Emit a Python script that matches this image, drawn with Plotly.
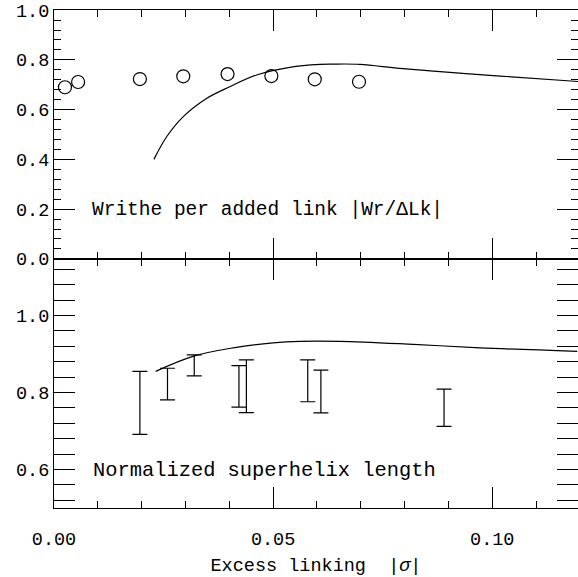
import plotly.graph_objects as go

# Top panel: writhe per added link (circles) and model curve
wr_sigma = [0.0025, 0.0055, 0.0196, 0.0295, 0.0396, 0.0496, 0.0595, 0.0696]
wr_value = [0.690, 0.711, 0.723, 0.734, 0.743, 0.735, 0.722, 0.712]

wr_model_sigma = [0.0228, 0.0257, 0.0295, 0.0348, 0.0401, 0.0462, 0.0538, 0.0607,
                  0.0636, 0.0698, 0.0789, 0.0903, 0.1018, 0.1196]
wr_model_value = [0.400, 0.491, 0.572, 0.645, 0.692, 0.739, 0.770, 0.782,
                  0.783, 0.782, 0.766, 0.750, 0.735, 0.713]

# Bottom panel: normalized superhelix length (ranges) and model curve
len_sigma = [0.0196, 0.0259, 0.0320, 0.0422, 0.0439, 0.0579, 0.0609, 0.0890]
len_high = [0.855, 0.863, 0.898, 0.870, 0.885, 0.885, 0.858, 0.809]
len_low = [0.691, 0.781, 0.843, 0.762, 0.748, 0.776, 0.747, 0.712]

len_model_sigma = [0.0232, 0.0317, 0.0409, 0.0500, 0.0561, 0.0652, 0.0820, 0.0972, 0.1194]
len_model_value = [0.855, 0.894, 0.916, 0.929, 0.933, 0.933, 0.925, 0.916, 0.907]

len_mid = [(h + l) / 2 for h, l in zip(len_high, len_low)]
len_half = [(h - l) / 2 for h, l in zip(len_high, len_low)]

FONT = "Liberation Mono"
BLACK = "black"

fig = go.Figure()

fig.add_trace(go.Scatter(
    x=wr_model_sigma, y=wr_model_value, mode="lines", line=dict(color=BLACK, width=1.2, shape="spline"),
    xaxis="x2", yaxis="y2", showlegend=False, hoverinfo="skip"))
fig.add_trace(go.Scatter(
    x=wr_sigma, y=wr_value, mode="markers",
    marker=dict(symbol="circle-open", size=13, color=BLACK, line=dict(width=1.2, color=BLACK)),
    xaxis="x2", yaxis="y2", showlegend=False))

fig.add_trace(go.Scatter(
    x=len_model_sigma, y=len_model_value, mode="lines", line=dict(color=BLACK, width=1.2, shape="spline"),
    xaxis="x3", yaxis="y", showlegend=False, hoverinfo="skip"))
fig.add_trace(go.Scatter(
    x=len_sigma, y=len_mid, mode="markers", marker=dict(size=0.1, color="rgba(0,0,0,0)"),
    error_y=dict(type="data", array=len_half, visible=True, color=BLACK, thickness=1.2, width=7.5),
    xaxis="x", yaxis="y", showlegend=False))

XMAX = 0.11957
split = 0.5

minor_x = dict(ticks="inside", ticklen=7, tickwidth=1, tickcolor=BLACK, dtick=0.01, tick0=0)

common_x = dict(
    range=[0, XMAX], showline=True, linecolor=BLACK, linewidth=1, mirror="allticks",
    ticks="inside", ticklen=21, tickwidth=1.2, tickcolor=BLACK, tick0=0, dtick=0.05,
    minor=minor_x, automargin=False, showticklabels=False,
    showgrid=False, zeroline=False,
)
common_y = dict(
    showline=True, linecolor=BLACK, linewidth=1, mirror="allticks",
    ticks="inside", ticklen=21, tickwidth=1.2, tickcolor=BLACK, dtick=0.2,
    showgrid=False, zeroline=False, tickformat=".1f", automargin=False,
    tickfont=dict(family=FONT, size=18.5, color=BLACK),
)

fig.update_layout(
    width=578, height=577,
    margin=dict(l=54, r=0, t=10, b=69, autoexpand=False),
    paper_bgcolor="white", plot_bgcolor="white",
    font=dict(family=FONT, color=BLACK),
    xaxis=dict(common_x, anchor="y", domain=[0, 1]),
    xaxis2=dict(common_x, anchor="y2", domain=[0, 1]),
    # label-only axis carrying the tick labels and title below the bottom panel
    xaxis3=dict(anchor="y", overlaying="x", side="bottom", range=[0, XMAX], tick0=0, dtick=0.05,
                ticks="outside", ticklen=14, tickcolor="rgba(0,0,0,0)", showline=False,
                showgrid=False, zeroline=False, automargin=False, tickformat=".2f",
                tickfont=dict(family=FONT, size=18.5, color=BLACK),
                title=dict(text="Excess linking\u00a0\u00a0|<i>σ</i>|",
                           font=dict(family=FONT, size=18.5, color=BLACK), standoff=12)),
    yaxis=dict(common_y, anchor="x", domain=[0, split], range=[0.5, 1.1468], tick0=0.6,
               minor=dict(ticks="inside", ticklen=7, tickwidth=1, tickcolor=BLACK, dtick=0.04, tick0=0.6)),
    yaxis2=dict(common_y, anchor="x2", domain=[split, 1], range=[-0.0005, 1.0005], tick0=0,
                minor=dict(ticks="inside", ticklen=7, tickwidth=1, tickcolor=BLACK, dtick=0.04, tick0=0)),
    annotations=[
        dict(text="Writhe per added link |Wr/ΔLk|", x=0.00815, y=0.197, xref="x2", yref="y2",
             xanchor="left", yanchor="middle", showarrow=False,
             font=dict(family=FONT, size=19.5, color=BLACK)),
        dict(text="Normalized superhelix length", x=0.0085, y=0.598, xref="x", yref="y",
             xanchor="left", yanchor="middle", showarrow=False,
             font=dict(family=FONT, size=20.4, color=BLACK)),
    ],
)

fig.write_html("out.html", config={"displayModeBar": False},
               post_script="document.body.style.margin='0';document.body.style.padding='0';")
